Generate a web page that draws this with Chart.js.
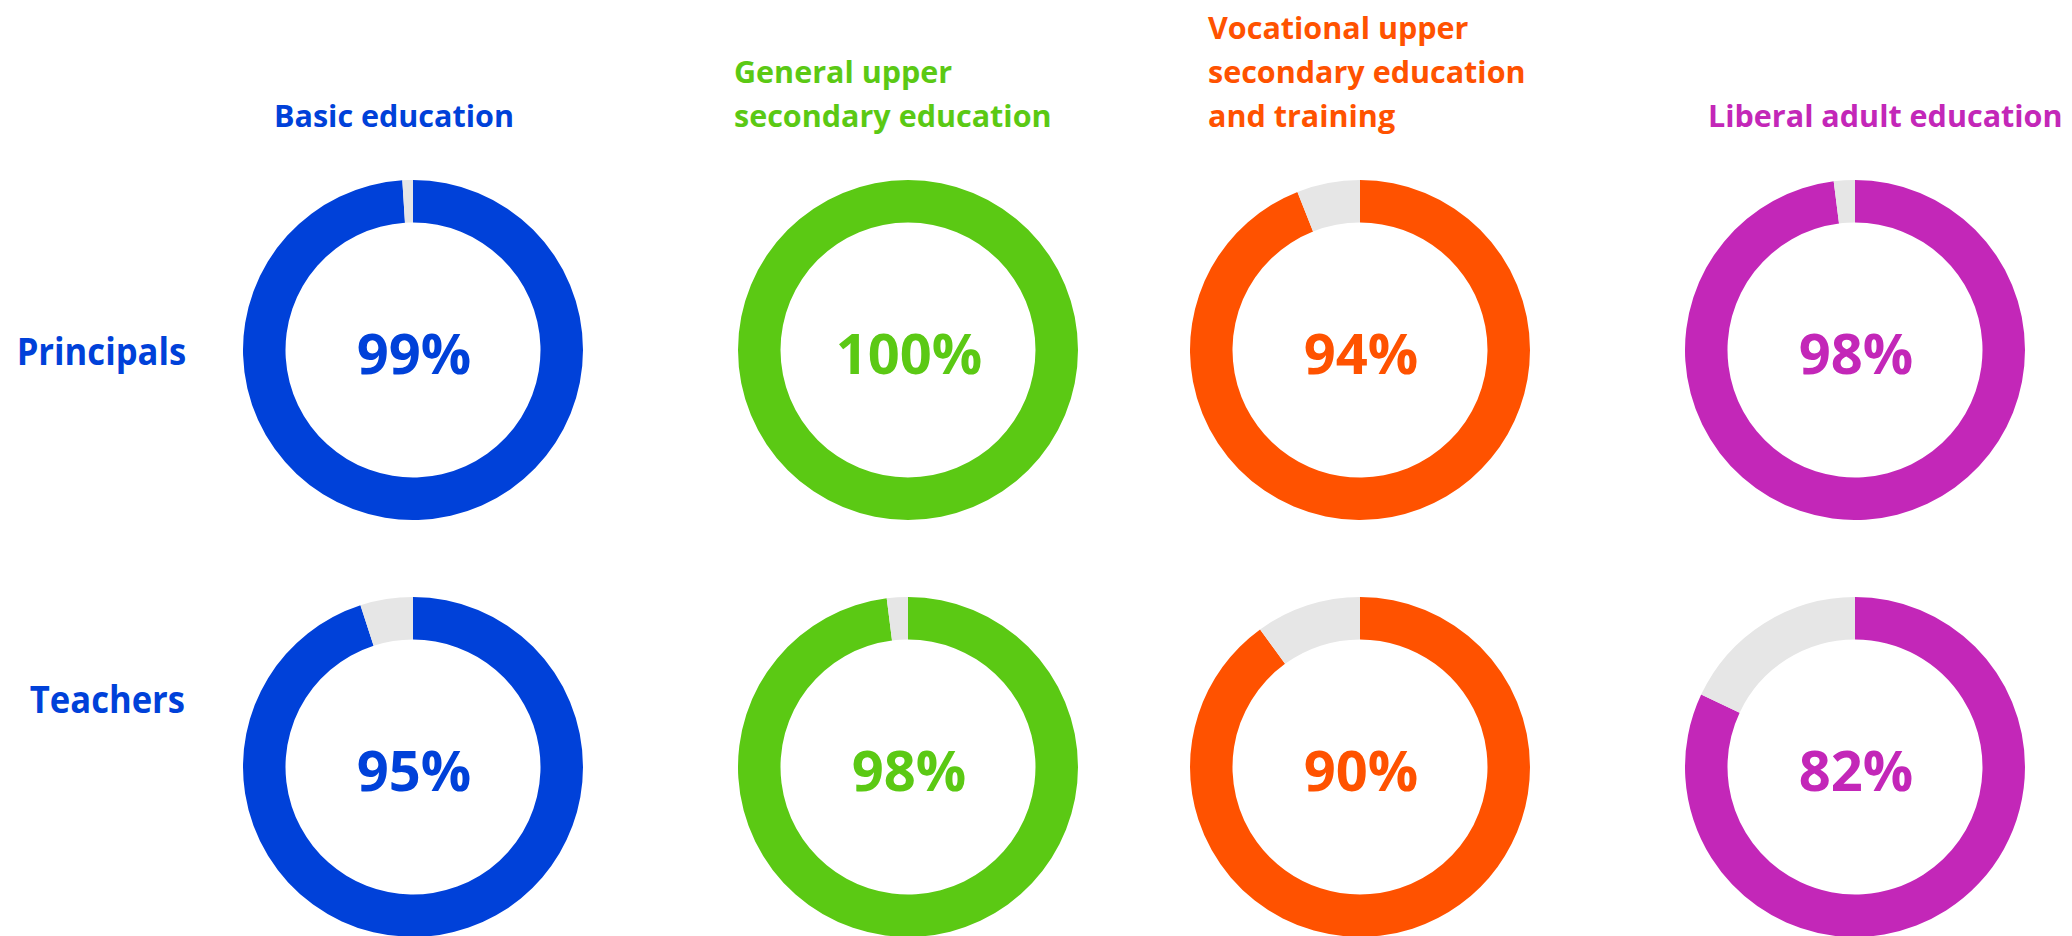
<!DOCTYPE html>
<html>
<head>
<meta charset="utf-8">
<script src="https://cdn.jsdelivr.net/npm/chart.js@4/dist/chart.umd.min.js"></script>
<style>
  html, body { margin: 0; padding: 0; background: #fff; width: 2072px; height: 936px; overflow: hidden; }
  #stage { position: relative; width: 2072px; height: 936px; font-family: "Open Sans", "Noto Sans", sans-serif; font-weight: 700; }
  .title { position: absolute; font-size: 30.5px; line-height: 44px; white-space: nowrap; }
  .row { position: absolute; left: 0; width: 185px; text-align: right; font-size: 38px; line-height: 38px; color: #0041D9; transform: scaleX(0.91); transform-origin: right center; }
  canvas { position: absolute; }
</style>
</head>
<body>
<div id="stage"></div>
<script>
// ---- data ----
const categories = ['Basic education', 'General upper secondary education', 'Vocational upper secondary education and training', 'Liberal adult education'];
const titleLines = [
  ['Basic education'],
  ['General upper', 'secondary education'],
  ['Vocational upper', 'secondary education', 'and training'],
  ['Liberal adult education']
];
const rowLabels = ['Principals', 'Teachers'];
const principals = [99, 100, 94, 98];
const teachers = [95, 98, 90, 82];

// ---- styles / layout ----
const colors = ['#0041D9', '#5BC914', '#FF5200', '#C327B8'];
const restColor = '#E6E6E6';
const centersX = [413, 908, 1360, 1855];
const centersY = [350, 767];
const R = 170;
const titleLeft = [274, 734, 1208, 1708];
const rowLabelTop = [331, 679];

const stage = document.getElementById('stage');

titleLines.forEach((lines, i) => {
  const d = document.createElement('div');
  d.className = 'title';
  d.style.color = colors[i];
  d.style.left = titleLeft[i] + 'px';
  d.style.top = (93 - 44 * (lines.length - 1)) + 'px';
  d.innerHTML = lines.join('<br>');
  stage.appendChild(d);
});

rowLabels.forEach((t, r) => {
  const d = document.createElement('div');
  d.className = 'row';
  d.style.top = rowLabelTop[r] + 'px';
  d.textContent = t;
  stage.appendChild(d);
});

const centerText = {
  id: 'centerText',
  afterDraw(chart, args, opts) {
    const ctx = chart.ctx;
    const meta = chart.getDatasetMeta(0);
    const arc = meta.data[0];
    const cx = arc.x, cy = arc.y;
    ctx.save();
    ctx.font = '700 56px "Open Sans", "Noto Sans", sans-serif';
    ctx.fillStyle = opts.color;
    ctx.textAlign = 'center';
    ctx.textBaseline = 'alphabetic';
    ctx.fillText(chart.data.datasets[0].data[0] + '%', cx + 1, cy + 24);
    ctx.restore();
  }
};

[principals, teachers].forEach((series, r) => {
  series.forEach((v, i) => {
    const c = document.createElement('canvas');
    c.width = 2 * R; c.height = 2 * R;
    c.style.left = (centersX[i] - R) + 'px';
    c.style.top = (centersY[r] - R) + 'px';
    c.style.width = 2 * R + 'px'; c.style.height = 2 * R + 'px';
    stage.appendChild(c);
    new Chart(c, {
      type: 'doughnut',
      data: {
        labels: [categories[i], 'Other'],
        datasets: [{
          data: [v, 100 - v],
          backgroundColor: [colors[i], restColor],
          borderWidth: 0,
          hoverOffset: 0
        }]
      },
      options: {
        responsive: false,
        animation: false,
        events: [],
        cutout: '75%',
        layout: { padding: 0 },
        plugins: {
          legend: { display: false },
          tooltip: { enabled: false },
          centerText: { color: colors[i] }
        }
      },
      plugins: [centerText]
    });
  });
});
</script>
</body>
</html>
